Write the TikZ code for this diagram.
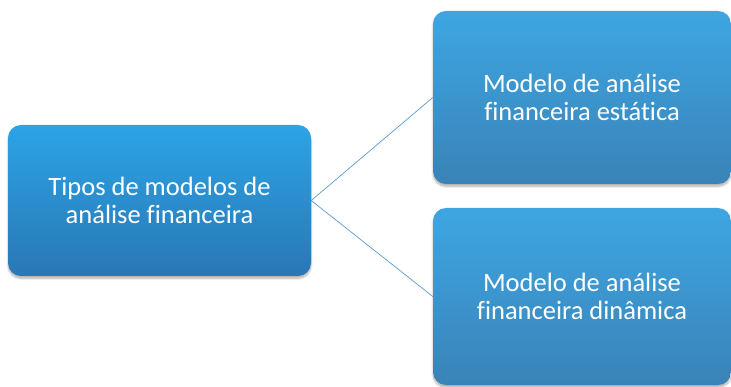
\documentclass[tikz,border=0pt]{standalone}
\usepackage{fontspec}
\setmainfont[Ligatures=NoCommon]{Carlito}
\usetikzlibrary{shadows.blur}

\definecolor{maintop}{HTML}{2BA4E6}
\definecolor{mainbot}{HTML}{2A77B5}
\definecolor{subtop}{HTML}{3DA6E2}
\definecolor{subbot}{HTML}{3A83B8}
\definecolor{linkline}{HTML}{5B9BD0}

\begin{document}
\begin{tikzpicture}[x=1pt,y=-1pt,
  box/.style={rectangle,rounded corners=13pt,align=center,text=white,
    font=\fontsize{26.5}{28}\selectfont,inner sep=0pt,
    blur shadow={shadow blur steps=6,shadow xshift=0pt,shadow yshift=-2.5pt,shadow opacity=30}},
  mainbox/.style={box,top color=maintop,bottom color=mainbot},
  subbox/.style={box,top color=subtop,bottom color=subbot},
  link/.style={draw=linkline,line width=0.7pt}]
\useasboundingbox (0,0) rectangle (731,387);

\node[mainbox,minimum width=303pt,minimum height=151pt](tipos) at (159.5,200.5)
  {Tipos de modelos de\\análise financeira};
\node[subbox,minimum width=298pt,minimum height=173pt](estatica) at (582,97.5)
  {Modelo de análise\\financeira estática};
\node[subbox,minimum width=298pt,minimum height=177pt](dinamica) at (582,296.5)
  {Modelo de análise\\financeira dinâmica};

\draw[link](tipos.east)--(estatica.west);
\draw[link](tipos.east)--(dinamica.west);
\end{tikzpicture}
\end{document}
